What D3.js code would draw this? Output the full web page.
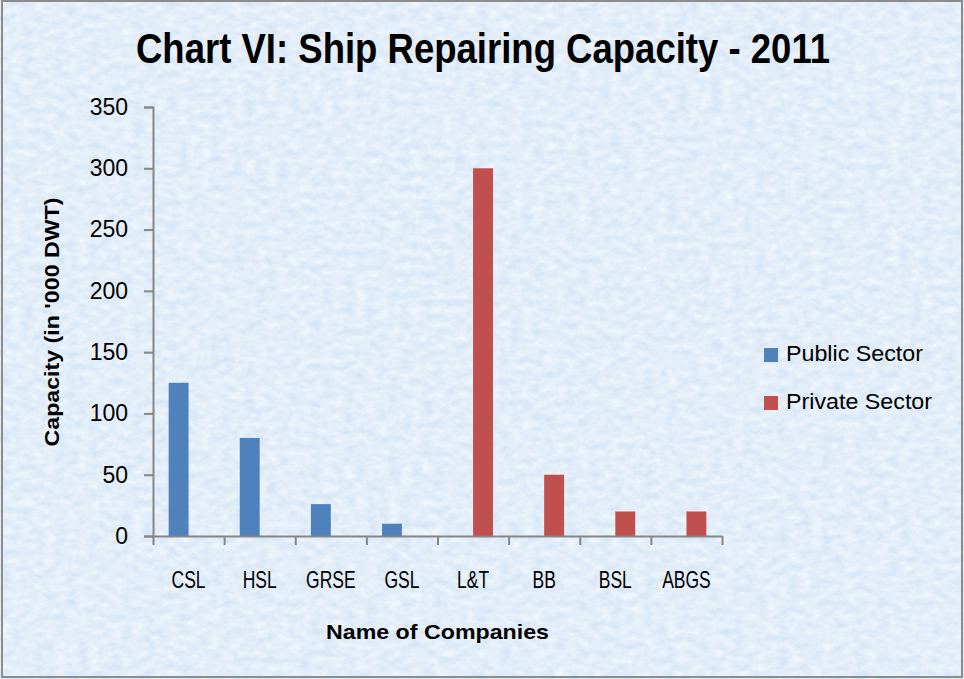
<!DOCTYPE html>
<html>
<head>
<meta charset="utf-8">
<script src="https://cdn.jsdelivr.net/npm/d3@7"></script>
<style>
  html, body { margin: 0; padding: 0; background: #fff; }
  svg text { font-family: "Liberation Sans", Arial, sans-serif; fill: #000; }
  svg text.narrow { font-family: "Liberation Sans Narrow", "Arial Narrow", "Liberation Sans", Arial, sans-serif; }
</style>
</head>
<body>
<svg id="chart" width="964" height="679"></svg>
<script>
const categories = ['CSL', 'HSL', 'GRSE', 'GSL', 'L&T', 'BB', 'BSL', 'ABGS'];
const seriesNames = ['Public Sector', 'Private Sector'];
const publicSector = [125, 80, 26, 10, null, null, null, null];
const privateSector = [null, null, null, null, 300, 50, 20, 20];
const yTicks = [0, 50, 100, 150, 200, 250, 300, 350];

const colors = { 'Public Sector': '#4f81bd', 'Private Sector': '#c0504d' };
const axisColor = '#868686';

const svg = d3.select('#chart');
const margin = { top: 107, left: 153 };
const width = 569, height = 429;

// paper-like background
const defs = svg.append('defs');
const paper = defs.append('filter').attr('id', 'paper')
  .attr('x', 0).attr('y', 0).attr('width', '100%').attr('height', '100%');
paper.append('feTurbulence')
  .attr('type', 'fractalNoise').attr('baseFrequency', '0.09 0.14')
  .attr('numOctaves', 3).attr('seed', 11);
paper.append('feColorMatrix').attr('type', 'matrix')
  .attr('values', '0 0 0 0 1  0 0 0 0 1  0 0 0 0 1  0.9 0 0 0 -0.1');

svg.append('rect').attr('x', 0).attr('y', 0).attr('width', 964).attr('height', 679)
  .attr('fill', '#d3e4f5');
svg.append('rect').attr('x', 0).attr('y', 0).attr('width', 964).attr('height', 679)
  .attr('filter', 'url(#paper)');
svg.append('rect').attr('x', 2).attr('y', 1).attr('width', 960).attr('height', 676)
  .attr('fill', 'none').attr('stroke', '#8c8c8c').attr('stroke-width', 2);

// fit a group of texts so the first one gets the given width
const fitTo = (sel, firstWidth) => {
  const k = firstWidth / sel.node().getComputedTextLength();
  sel.each(function() {
    const w = this.getComputedTextLength();
    d3.select(this).attr('textLength', w * k).attr('lengthAdjust', 'spacingAndGlyphs');
  });
};

// title
svg.append('text')
  .attr('class', 'narrow')
  .attr('x', 483).attr('y', 63)
  .attr('text-anchor', 'middle')
  .attr('font-size', 42).attr('font-weight', 'bold')
  .attr('textLength', 694).attr('lengthAdjust', 'spacingAndGlyphs')
  .text('Chart VI: Ship Repairing Capacity - 2011');

const g = svg.append('g').attr('transform', `translate(${margin.left},${margin.top})`);

const x0 = d3.scaleBand().domain(categories).range([0, width])
  .paddingInner(0.44).paddingOuter(0.22);
const x1 = d3.scaleBand().domain(seriesNames).range([0, x0.bandwidth()]);
const xEdges = d3.scaleLinear().domain([0, categories.length]).range([0, width]);
const y = d3.scaleLinear().domain([0, 350]).range([height, 0]);

const rows = categories.map((c, i) => ({
  category: c,
  values: [
    { series: 'Public Sector', value: publicSector[i] },
    { series: 'Private Sector', value: privateSector[i] },
  ].filter(d => d.value != null),
}));

// bars
g.append('g').selectAll('g').data(rows).join('g')
  .attr('transform', d => `translate(${x0(d.category)},0)`)
  .selectAll('rect').data(d => d.values).join('rect')
    .attr('x', d => x1(d.series))
    .attr('width', x1.bandwidth())
    .attr('y', d => y(d.value))
    .attr('height', d => y(0) - y(d.value))
    .attr('fill', d => colors[d.series]);

// y axis
const yAxis = g.append('g')
  .call(d3.axisLeft(y).tickValues(yTicks).tickSize(9).tickPadding(16));
yAxis.selectAll('text').attr('font-size', 23).attr('font-family', null);

// x axis: tick marks between categories, labels centred
const xTicks = g.append('g').attr('transform', `translate(0,${height})`)
  .call(d3.axisBottom(xEdges).tickValues(d3.range(0, categories.length + 1))
    .tickFormat('').tickSize(9).tickSizeOuter(0));
const xLabels = g.append('g').attr('transform', `translate(0,${height})`)
  .call(d3.axisBottom(x0).tickSize(0).tickPadding(35));
xLabels.select('.domain').remove();
xLabels.selectAll('text')
  .attr('class', 'narrow')
  .attr('font-size', 24).attr('font-family', null).attr('dy', null)
  .attr('y', 52)
  .call(fitTo, 34);

[yAxis, xTicks].forEach(a => {
  a.selectAll('.domain').attr('stroke', axisColor).attr('stroke-width', 2);
  a.selectAll('.tick line').attr('stroke', axisColor).attr('stroke-width', 2);
});

// axis titles
svg.append('text')
  .attr('class', 'narrow')
  .attr('transform', 'translate(59,322) rotate(-90)')
  .attr('text-anchor', 'middle')
  .attr('font-size', 21).attr('font-weight', 'bold')
  .attr('textLength', 249).attr('lengthAdjust', 'spacingAndGlyphs')
  .text("Capacity (in '000 DWT)");

svg.append('text')
  .attr('class', 'narrow')
  .attr('x', margin.left + width / 2).attr('y', 639)
  .attr('text-anchor', 'middle')
  .attr('font-size', 21).attr('font-weight', 'bold')
  .attr('textLength', 223).attr('lengthAdjust', 'spacingAndGlyphs')
  .text('Name of Companies');

// legend
const legend = svg.append('g').attr('transform', 'translate(764,348)')
  .selectAll('g').data(seriesNames).join('g')
  .attr('transform', (d, i) => `translate(0,${i * 48})`);
legend.append('rect').attr('width', 14).attr('height', 14).attr('fill', d => colors[d]);
legend.append('text').attr('x', 22).attr('y', 13)
  .attr('font-size', 22).text(d => d).call(fitTo, 137);
</script>
</body>
</html>
